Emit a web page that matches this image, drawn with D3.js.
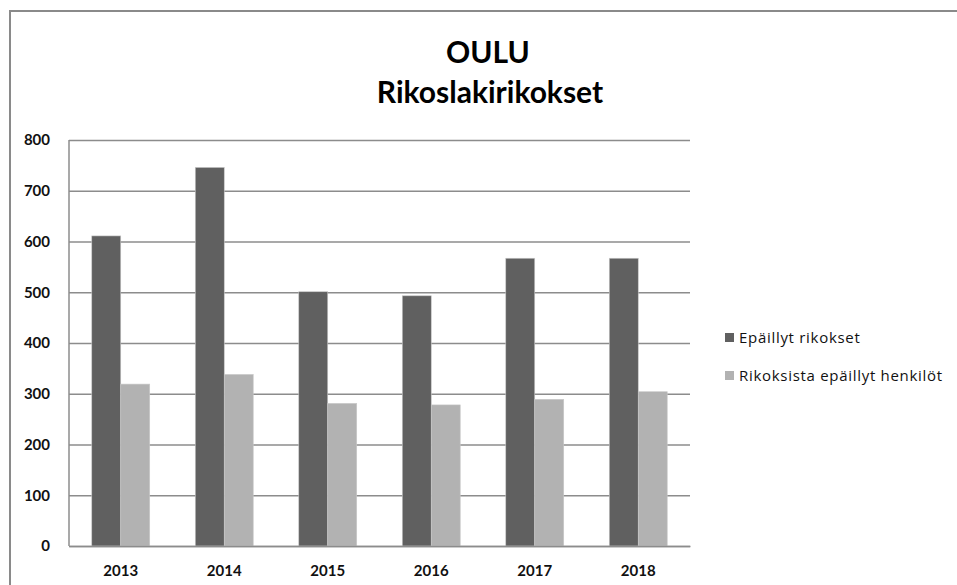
<!DOCTYPE html>
<html lang="fi">
<head>
<meta charset="UTF-8">
<title>Oulu rikoslakirikokset</title>
<script src="https://cdn.jsdelivr.net/npm/d3@7"></script>
<style>
  body { margin: 0; background: #fff; }
  text { font-family: Lato, "Open Sans", sans-serif; }
</style>
</head>
<body>
<div id="chart"></div>
<script>
// data
const years = ["2013", "2014", "2015", "2016", "2017", "2018"];
const epaillytRikokset = [611, 746, 501, 493, 567, 567];
const epaillytHenkilot = [319, 338, 281, 278, 289, 304];
const seriesNames = ["Epäillyt rikokset", "Rikoksista epäillyt henkilöt"];
const seriesColors = ["#606060", "#b2b2b2"];
const yTicks = [0, 100, 200, 300, 400, 500, 600, 700, 800];

const W = 957, H = 585;
const margin = {top: 140, right: 267, bottom: 39, left: 69};
const width = W - margin.left - margin.right,
      height = H - margin.top - margin.bottom;

const svg = d3.select("#chart").append("svg")
    .attr("width", W)
    .attr("height", H);

// outer frame of the chart
svg.append("rect")
    .attr("x", 10).attr("y", 11)
    .attr("width", W).attr("height", H)
    .attr("fill", "none")
    .attr("stroke", "#8a8a8a")
    .attr("stroke-width", 2);

const g = svg.append("g")
    .attr("transform", `translate(${margin.left},${margin.top})`);

const x = d3.scaleBand().domain(years).range([0, width]).paddingInner(0.44).paddingOuter(0.22);
const x1 = d3.scaleBand().domain(seriesNames).range([0, x.bandwidth()]);
const y = d3.scaleLinear().domain([0, 800]).range([height, 0]);

// gridlines
g.append("g")
    .call(d3.axisLeft(y).tickValues(yTicks).tickSize(-width).tickFormat(""))
    .call(s => s.select(".domain").remove())
    .selectAll("line")
      .attr("stroke", "#8c8c8c")
      .attr("stroke-width", 1.5);

// y tick labels
g.append("g")
    .call(d3.axisLeft(y).tickValues(yTicks).tickSize(0).tickPadding(19))
    .call(s => s.select(".domain").remove())
    .selectAll("text")
      .attr("fill", "#111")
      .style("font-size", "15px")
      .style("font-weight", "bold");

// left axis line
g.append("line")
    .attr("x1", 0).attr("x2", 0)
    .attr("y1", 0).attr("y2", height)
    .attr("stroke", "#8c8c8c")
    .attr("stroke-width", 1.5);

// bars
const rows = years.map((yr, i) => ({year: yr, values: [epaillytRikokset[i], epaillytHenkilot[i]]}));
const groups = g.selectAll(".year")
    .data(rows)
    .enter().append("g")
      .attr("transform", d => `translate(${x(d.year)},0)`);

groups.selectAll("rect")
    .data(d => d.values.map((v, k) => ({name: seriesNames[k], value: v, k: k})))
    .enter().append("rect")
      .attr("x", d => x1(d.name))
      .attr("y", d => y(d.value))
      .attr("width", x1.bandwidth())
      .attr("height", d => height - y(d.value))
      .attr("fill", d => seriesColors[d.k])
      .attr("stroke", "#c8c8c8")
      .attr("stroke-width", 0.6);

// x axis
g.append("g")
    .attr("transform", `translate(0,${height})`)
    .call(d3.axisBottom(x).tickSize(0).tickPadding(19))
    .call(s => s.select(".domain").attr("stroke", "#8c8c8c").attr("stroke-width", 1.5))
    .selectAll("text")
      .attr("fill", "#111")
      .style("font-size", "15px")
      .style("font-weight", "bold");

// title
svg.append("text")
    .attr("x", 488).attr("y", 63)
    .attr("text-anchor", "middle")
    .style("font-size", "30px")
    .style("font-weight", "bold")
    .text("OULU");
svg.append("text")
    .attr("x", 490).attr("y", 103)
    .attr("text-anchor", "middle")
    .style("font-size", "30px")
    .style("font-weight", "bold")
    .text("Rikoslakirikokset");

// legend
const legend = svg.append("g").attr("transform", "translate(725,343)");
seriesNames.forEach((name, i) => {
  const item = legend.append("g").attr("transform", `translate(0,${i * 38})`);
  item.append("rect")
      .attr("x", 0).attr("y", -10)
      .attr("width", 9).attr("height", 9)
      .attr("fill", seriesColors[i]);
  item.append("text")
      .attr("x", 14).attr("y", 0)
      .style("font-family", "'Open Sans', sans-serif")
      .style("font-size", "15px")
      .style("letter-spacing", "0.7px")
      .attr("fill", "#111")
      .text(name);
});
</script>
</body>
</html>
